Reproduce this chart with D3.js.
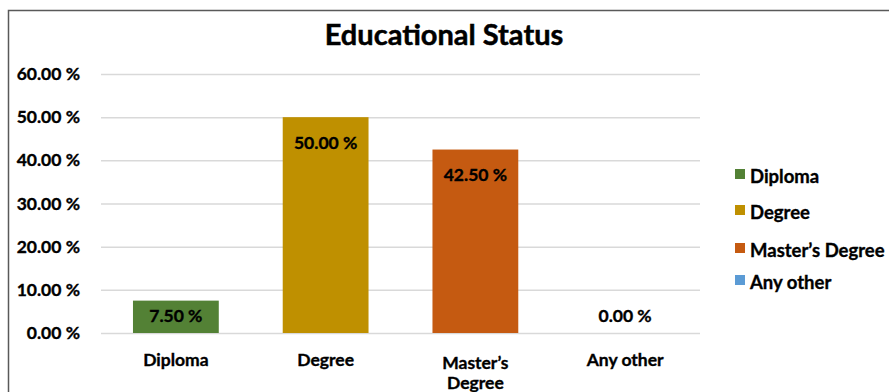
<!DOCTYPE html>
<html><head><meta charset="utf-8">
<script src="https://cdn.jsdelivr.net/npm/d3@7"></script>
<style>body{margin:0;background:#fff}svg{display:block}text{font-family:Lato,"Open Sans",sans-serif;font-weight:700;fill:#000;stroke:#000;stroke-width:0.35px}</style>
</head><body><svg id="c" width="889" height="392"></svg>
<script>
const categories = ["Diploma","Degree","Master’s Degree","Any other"];
const values = [7.5, 50, 42.5, 0];
const colors = ["#538135","#bf9000","#c55a11","#5b9bd5"];
const yTicks = [0,10,20,30,40,50,60];
const title = "Educational Status";

const svg = d3.select("#c");
svg.append("rect").attr("x",8.5).attr("y",10.5).attr("width",1000).attr("height",1000)
  .attr("fill","#fff").attr("stroke","#595959").attr("stroke-width",1.5);

const x = d3.scaleBand().domain(categories).range([101,700]).paddingInner(0.427).paddingOuter(0.2135);
const y = d3.scaleLinear().domain([0,60]).range([333,74]);
const fmt = v => v.toFixed(2) + " %";

svg.append("text").attr("x",444).attr("y",33).attr("text-anchor","middle")
  .attr("dominant-baseline","central").style("font-size","29px").style("stroke-width","0.5px").text(title);

const yAxis = d3.axisLeft(y).tickValues(yTicks).tickSize(-(700-101)).tickFormat(fmt).tickPadding(21);
const ga = svg.append("g").attr("transform","translate(101,0)").call(yAxis);
ga.select(".domain").remove();
ga.selectAll(".tick line").attr("stroke","#d9d9d9").attr("stroke-width",1.5);
ga.selectAll(".tick text").style("font-size","17.5px").attr("font-family","Lato,sans-serif").attr("fill","#000");

svg.selectAll("rect.bar").data(values).join("rect").attr("class","bar")
  .attr("x",(d,i)=>x(categories[i])).attr("width",x.bandwidth())
  .attr("y",d=>y(d)).attr("height",d=>y(0)-y(d)).attr("fill",(d,i)=>colors[i]);

svg.selectAll("text.lbl").data(values).join("text").attr("class","lbl")
  .attr("x",(d,i)=>x(categories[i])+x.bandwidth()/2)
  .attr("y",d=>Math.min(y(d)+25, y(0)-18))
  .attr("text-anchor","middle").attr("dominant-baseline","central")
  .style("font-size","17.5px").text(fmt);

const xAxis = d3.axisBottom(x).tickSize(0).tickPadding(0);
const gx = svg.append("g").attr("transform","translate(0,333)").call(xAxis);
gx.select(".domain").remove();
gx.selectAll(".tick text").each(function(d){
  const t = d3.select(this).text(null).attr("y",0).attr("dy",null)
    .attr("dominant-baseline","central")
    .style("font-size","17.5px").attr("font-family","Lato,sans-serif").attr("fill","#000");
  if (d === "Master’s Degree") {
    t.append("tspan").attr("x",0).attr("y",29).text("Master’s");
    t.append("tspan").attr("x",0).attr("y",49).text("Degree");
  } else {
    t.append("tspan").attr("x",0).attr("y",26).text(d);
  }
});

const legY = [176,212,250,282];
const lg = svg.selectAll("g.leg").data(categories).join("g").attr("class","leg")
  .attr("transform",(d,i)=>`translate(735,${legY[i]})`);
lg.append("rect").attr("x",0).attr("y",-7).attr("width",10).attr("height",10).attr("fill",(d,i)=>colors[i]);
lg.append("text").attr("x",15).attr("y",0).attr("dominant-baseline","central").style("font-size","18.5px").text(d=>d);
</script></body></html>
